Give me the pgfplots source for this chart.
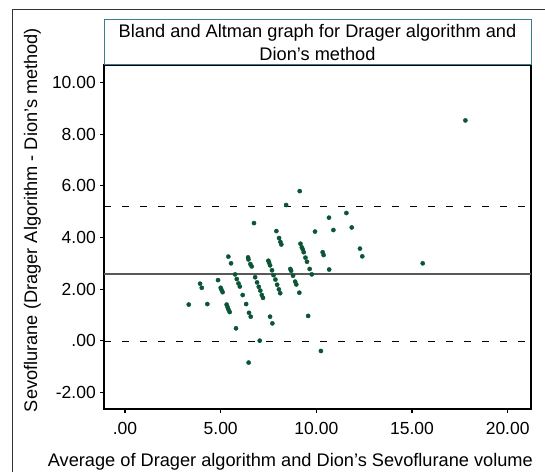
\documentclass[border=0pt]{standalone}
\usepackage{pgfplots}
\pgfplotsset{compat=1.18}
\usepackage{fontspec}
\setmainfont{Liberation Sans}

\definecolor{dotgreen}{HTML}{0B5537}
\definecolor{boxteal}{HTML}{3B7C8F}
\definecolor{meangray}{HTML}{595959}

\begin{document}
\fontsize{18.2}{21}\selectfont
\begin{tikzpicture}[x=1pt,y=1pt]
\path[use as bounding box] (0,0) rectangle (545,472);
% outer frame of the figure (cropped at right and bottom)
\draw[line width=0.9pt, black!80] (12.7,0) -- (12.7,462.7) -- (545,462.7);

\begin{axis}[
    at={(104pt,63pt)}, anchor=south west,
    scale only axis,
    width=427pt, height=344pt,
    xmin=-1.1, xmax=21.22,
    ymin=-2.65, ymax=10.69,
    axis line style={black, line width=1.1pt},
    tick pos=left,
    tick align=outside,
    major tick length=4pt,
    tick style={black, line width=1.1pt},
    tick label style={font=\fontsize{17.5}{20}\selectfont},
    xtick={0,5,10,15,20},
    xticklabels={.00,5.00,10.00,15.00,20.00},
    ytick={-2,0,2,4,6,8,10},
    yticklabels={-2.00,.00,2.00,4.00,6.00,8.00,10.00},
    xticklabel style={anchor=north, inner sep=0pt, yshift=-9pt},
    yticklabel style={anchor=east, inner sep=0pt, xshift=-4pt},
    clip=false,
]
% reference lines: mean and mean +/- 1.96 SD
\addplot[meangray, line width=1.3pt] coordinates {(-1.1,2.59) (21.22,2.59)};
\addplot[black, line width=1pt, dash pattern=on 6.5pt off 11.5pt] coordinates {(-1.1,5.22) (20.9,5.22)};
\addplot[black, line width=1pt, dash pattern=on 6.5pt off 11.5pt] coordinates {(-1.1,-0.05) (20.9,-0.05)};

\addplot[only marks, mark=*, mark size=2.1pt, draw=dotgreen, fill=dotgreen] coordinates {
(3.33,1.40) (3.92,2.21) (4.01,2.05) (4.30,1.42)
(4.86,2.35) (5.00,2.05) (5.05,1.96) (5.10,1.88) (5.31,1.40) (5.36,1.30) (5.41,1.20) (5.47,1.11)
(5.40,3.26) (5.54,3.00) (5.75,2.57) (5.84,2.39) (5.93,2.22) (6.00,2.10)
(6.15,1.77) (6.33,1.42) (6.48,1.08) (6.57,0.93) (5.80,0.48) (6.46,-0.85)
(6.74,4.56) (6.43,3.23) (6.45,3.15) (6.55,2.97) (6.62,2.88)
(6.80,2.46) (6.90,2.26) (6.99,2.09) (7.07,1.94) (7.15,1.77) (7.21,1.66) (7.04,0.00)
(7.49,3.10) (7.53,3.02) (7.58,2.92) (7.68,2.73) (7.76,2.54) (7.86,2.37) (7.95,2.17) (8.04,1.99) (8.11,1.84)
(7.58,0.93) (7.70,0.67)
(7.91,4.25) (8.05,3.98) (8.12,3.83) (8.17,3.73) (8.42,5.26)
(8.64,2.78) (8.68,2.71) (8.78,2.52) (8.89,2.29) (8.95,2.18) (9.11,1.86) (9.13,5.80)
(9.17,3.76) (9.24,3.62) (9.29,3.54) (9.34,3.43) (9.43,3.22) (9.51,3.06) (9.65,2.78) (9.76,2.57)
(9.57,0.96)
(9.93,4.23) (10.33,3.43) (10.38,3.32) (10.67,2.76) (10.66,4.77) (10.89,4.29)
(11.57,4.95) (11.85,4.39) (12.28,3.57) (12.40,3.27) (10.24,-0.40)
(15.56,3.00) (17.79,8.54)
};
\end{axis}

% title box
\draw[boxteal, line width=1pt] (104,407) rectangle (531,452);
\node[align=center, inner sep=0pt, font=\fontsize{18.2}{23}\selectfont] at (317.5,429.5)
  {Bland and Altman graph for Drager algorithm and\\Dion’s method};

% axis titles
\node[rotate=90, anchor=base] at (37,252) {Sevoflurane (Drager Algorithm - Dion’s method)};
\node[anchor=base west, inner sep=0pt] at (47.7,6) {Average of Drager algorithm and Dion’s Sevoflurane volume};
\end{tikzpicture}
\end{document}
